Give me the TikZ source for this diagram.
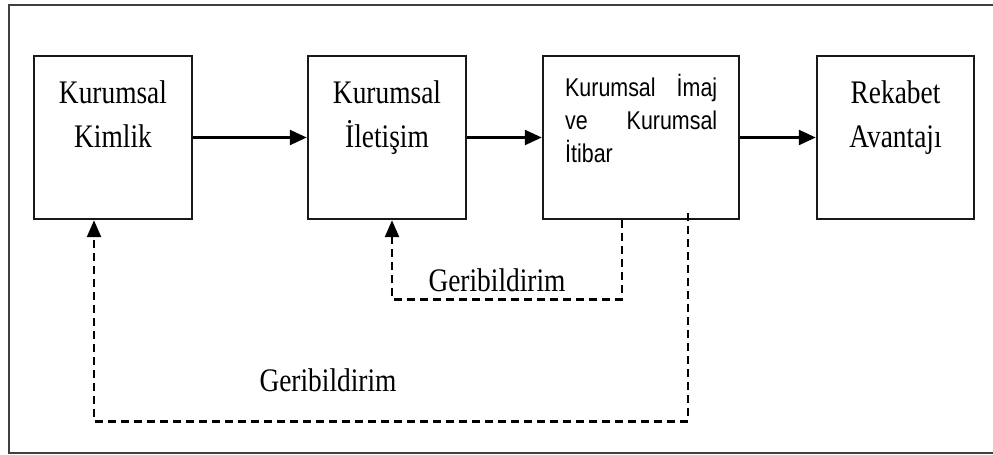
\documentclass[tikz,border=0pt]{standalone}
\usepackage{fontspec}
\usepackage{graphicx}
\setmainfont{Liberation Serif}
\setsansfont{Liberation Sans}
\usetikzlibrary{arrows.meta}

% text is set a little taller than wide
\newcommand{\tallset}[1]{\scalebox{1}[1.2]{#1}}

\tikzset{
  stage/.style={draw=black!90, line width=2.5bp, minimum width=158bp, minimum height=163bp, inner sep=0pt},
  serifbox/.style={anchor=base, inner sep=0pt},
  flow/.style={line width=2.5bp, -{Triangle[length=17bp,width=15bp]}},
  feedback/.style={line width=2.6bp, dash pattern=on 8bp off 5bp, -{Triangle[length=17bp,width=14bp]}},
  fblabel/.style={anchor=base, inner sep=0pt},
}

\begin{document}
\begin{tikzpicture}[x=1bp, y=-1bp]
  \useasboundingbox (0,0) rectangle (993,455);
  \fill[white] (0,0) rectangle (993,455);
  \clip (0,0) rectangle (993,455);

  % surrounding frame, open to the right
  \draw[line width=2.2bp, black!75] (1000,5) -- (9,5) -- (9,453) -- (1000,453);

  % the four stages
  \node[stage] (b1) at (113,137.5) {};
  \node[stage] (b2) at (387,137.5) {};
  \node[stage, minimum width=196bp] (b3) at (641,137.5) {};
  \node[stage, minimum width=157bp] (b4) at (895.5,137.5) {};

  % stage titles
  \node[serifbox] (t1) at (113,104) {\tallset{\parbox[t]{150bp}{\centering\fontsize{27.5}{36.7}\selectfont Kurumsal\\Kimlik}}};
  \node[serifbox] (t2) at (387,104) {\tallset{\parbox[t]{150bp}{\centering\fontsize{27.5}{36.7}\selectfont Kurumsal\\İletişim}}};
  \node[anchor=base west, inner sep=0pt] (t3) at (565,97)
    {\tallset{\parbox[t]{152bp}{\sffamily\fontsize{21.5}{27.5}\selectfont Kurumsal\hfill İmaj\\ ve\hfill Kurumsal\\ İtibar}}};
  \node[serifbox] (t4) at (895.5,104) {\tallset{\parbox[t]{150bp}{\centering\fontsize{27.5}{36.7}\selectfont Rekabet\\Avantajı}}};

  % forward flow
  \draw[flow] (b1.east) -- (b2.west);
  \draw[flow] (b2.east) -- (b3.west);
  \draw[flow] (b3.east) -- (b4.west);

  % feedback loops
  \draw[feedback] ([xshift=-19bp]b3.south) -- ++(0,79) -| ([xshift=5bp]b2.south);
  \draw[feedback] ([xshift=47bp,yshift=7bp]b3.south) -- ++(0,208) -| ([xshift=-19bp]b1.south);

  \node[fblabel] (g1) at (497,292) {\tallset{\fontsize{27.5}{33}\selectfont Geribildirim}};
  \node[fblabel] (g2) at (328,392) {\tallset{\fontsize{27.5}{33}\selectfont Geribildirim}};
\end{tikzpicture}
\end{document}
